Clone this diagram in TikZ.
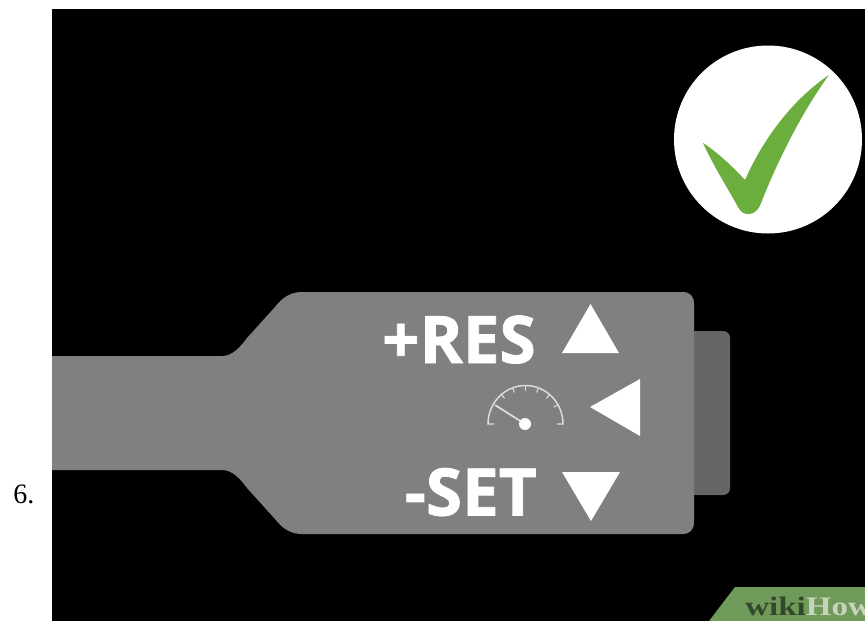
\documentclass[tikz,border=0pt]{standalone}
\usepackage{fontspec}
\setmainfont{Liberation Serif}
\newfontfamily\labelfont[BoldFeatures={FakeBold=1.2}]{Open Sans}
\newfontfamily\wikifont[FakeStretch=1.24]{Liberation Serif}
\definecolor{bodygrey}{HTML}{808080}
\definecolor{btngrey}{HTML}{666666}
\definecolor{checkgreen}{HTML}{6BAE3E}
\definecolor{bannergreen}{HTML}{6F9A5A}
\definecolor{wikidark}{HTML}{33482B}
\definecolor{wikilight}{HTML}{C6D4BC}
\definecolor{gaugeline}{HTML}{DDDDDD}
\tikzset{
  keylabel/.style={text=white,inner sep=0pt,anchor=base east,font=\labelfont\bfseries\fontsize{49.2}{49}\selectfont},
  arrowtri/.style={fill=white,draw=none},
  gaugestroke/.style={draw=gaugeline,line width=1.1pt},
}
\begin{document}
\begin{tikzpicture}[x=0.75pt,y=-0.75pt]
\useasboundingbox (0,0) rectangle (865,621);
\fill[white] (0,0) rectangle (865,621);
\fill[black] (52,9) rectangle (865,621);
% check badge
\fill[white] (768,139.5) circle[radius=94];
\fill[checkgreen] (703,143) .. controls (716,151) and (733,167) .. (745,180)
  .. controls (765,135) and (795,98) .. (829,75)
  .. controls (802,112) and (778,160) .. (761,203)
  .. controls (757,216) and (743,218) .. (738,207)
  .. controls (727,187) and (713,165) .. (703,143) -- cycle;
% button stalk
\fill[btngrey,rounded corners=5] (680,331) -- (730,331) -- (730,495) -- (680,495) -- cycle;
\fill[bodygrey] (52,356) -- (222,356)
  .. controls (233,356) and (241,346) .. (247,338)
  -- (275,307)
  .. controls (282,298) and (290,292) .. (302,292)
  -- (682,292) .. controls (690,292) and (694,296) .. (694,304)
  -- (694,522) .. controls (694,530) and (690,534) .. (682,534)
  -- (302,534)
  .. controls (290,534) and (282,528) .. (275,519)
  -- (247,488)
  .. controls (241,480) and (233,470) .. (222,470)
  -- (52,470) -- cycle;
% labels
\node[keylabel] (res) at (536,363) {+RES};
\node[keylabel] (set) at (537,515.5) {-SET};
% triangles
\fill[arrowtri] (562,353) -- (590.5,304) -- (619,353) -- cycle;
\fill[arrowtri] (590,407) -- (640,379) -- (640,436) -- cycle;
\fill[arrowtri] (562,472) -- (620,472) -- (591,521) -- cycle;
% gauge
\draw[gaugestroke] (494,424) -- (488,424) arc[start angle=180,end angle=0,x radius=37.5,y radius=-38.5] -- (557,424);
\foreach \a in {30,50,70,90,110,130}{
  \draw[gaugestroke,line width=0.8pt] (525.5,424) ++(\a:37.5 and -38.5) -- ++(\a:-5 and 5);
}
\draw[draw=gaugeline,line width=1.3pt] (495,405) -- (525,424);
\fill[white] (525,424) circle[radius=6];
% banner
\fill[bannergreen] (735,587) -- (865,587) -- (865,621) -- (709,621) -- cycle;
\begin{scope}
\clip (0,0) rectangle (865,621);
\node[anchor=base west,inner sep=0pt,font=\wikifont\bfseries\fontsize{20}{20}\selectfont] (wm) at (745,615) {\textcolor{wikidark}{wiki}\textcolor{wikilight}{How}};
\end{scope}
% number
\node[anchor=base west,inner sep=0pt,text=black,font=\fontsize{21}{21}\selectfont] (num) at (13,503.5) {6.};
\end{tikzpicture}
\end{document}
